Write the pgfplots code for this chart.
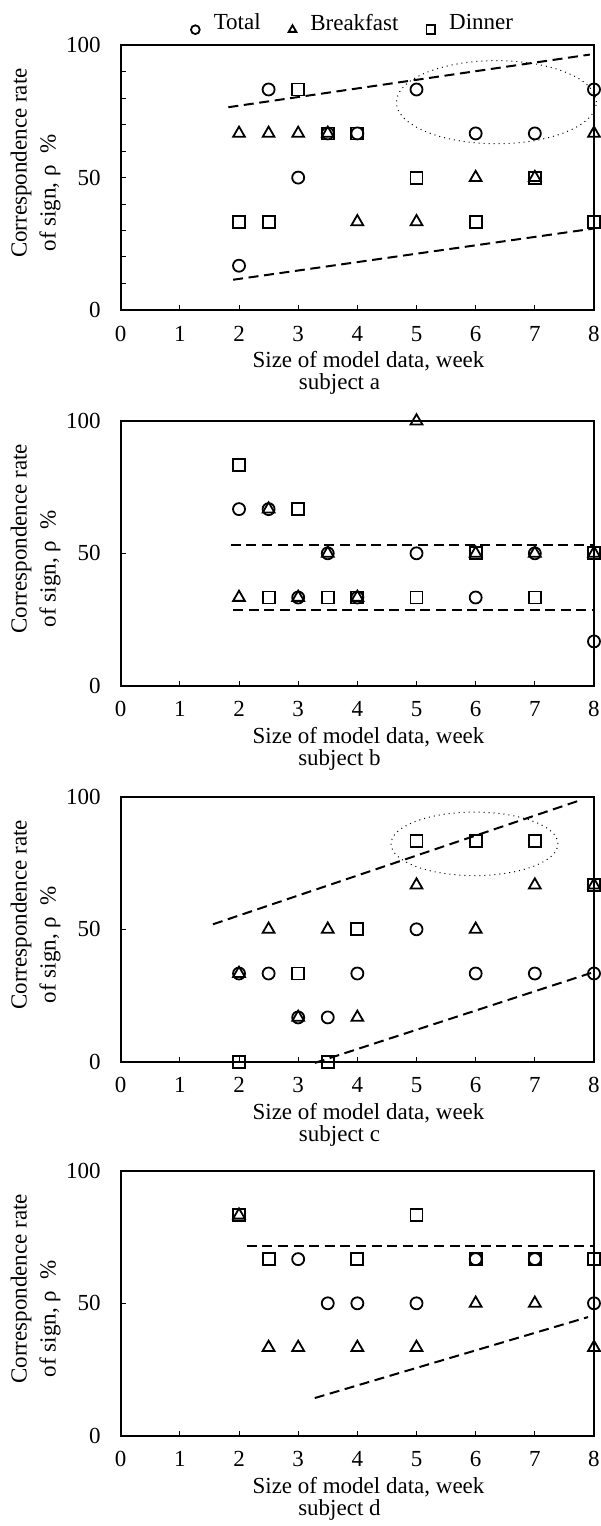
\documentclass[border=0pt]{standalone}
\usepackage{fontspec}
\setmainfont{Liberation Serif}
\usepackage{pgfplots}
\pgfplotsset{compat=1.18}
\newcommand{\bodyfont}{\fontsize{11.5}{11}\selectfont}
\pgfplotsset{
 panel/.style={
  scale only axis, width=236.65pt, height=132.3pt,
  xmin=0,xmax=8,ymin=0,ymax=100,
  xtick={0,1,...,8}, ytick={0,50,100},
  tick align=inside, xtick pos=bottom, ytick pos=left,
  major tick length=2.5pt, minor tick length=2.5pt,
  axis line style={line width=1pt},
  every tick/.style={black, line width=0.5pt},
  /pgf/number format/assume math mode=true,
  xticklabel style={yshift=-4pt},
  yticklabel style={xshift=-6pt},
  clip=false,
 },
 tot/.style={only marks, mark=o, mark size=3pt, mark options={line width=0.9pt}},
 brk/.style={only marks, mark=triangle, mark size=3.4pt, mark options={line width=0.9pt}},
 din/.style={only marks, mark=square, mark size=3pt, mark options={line width=0.9pt}},
 trend/.style={sharp plot, no markers, line width=1pt, dash pattern=on 5pt off 2.8pt},
}
\newcommand{\panellabels}[1]{%
  \node[rotate=90, anchor=center] at (rel axis cs:-0.2107,0.555) {Correspondence rate};
  \node[rotate=90, anchor=center] at (rel axis cs:-0.1494,0.442) {of sign, ρ\hspace{0.5em}\%};
  \node[anchor=base, yshift=-29pt] at (rel axis cs:0.5236,0) {Size of model data, week};
  \node[anchor=base, yshift=-39.85pt] at (rel axis cs:0.4623,0) {subject #1};
}
\begin{document}
\bodyfont
\begin{tikzpicture}[font=\bodyfont]
% ---------- subject a
\begin{axis}[panel, at={(0,0)}, anchor=north west,
  minor y tick num=4,
  legend style={at={(rel axis cs:0.493,1)}, anchor=south, yshift=3.7pt,
    draw=none, fill=none, inner sep=0pt, legend columns=3,
    font=\bodyfont,
    /tikz/every odd column/.append style={column sep=5pt},
    /tikz/every even column/.append style={column sep=12pt}},
  legend image post style={mark size=2.2pt, yshift=-3pt},
]
\addplot[tot] coordinates {(2,16.7)(2.5,83.3)(3,50)(3.5,66.7)(4,66.7)(5,83.3)(6,66.7)(7,66.7)(8,83.3)};
\addlegendentry{\bodyfont Total}
\addplot[brk] coordinates {(2,66.7)(2.5,66.7)(3,66.7)(3.5,66.7)(4,33.3)(5,33.3)(6,50)(7,50)(8,66.7)};
\addlegendentry{\bodyfont Breakfast}
\addplot[din] coordinates {(2,33.3)(2.5,33.3)(3,83.3)(3.5,66.7)(4,66.7)(5,50)(6,33.3)(7,50)(8,33.3)};
\addlegendentry{\bodyfont Dinner}
\addplot[trend, forget plot] coordinates {(1.82,76.6)(7.93,96.5)};
\addplot[trend, forget plot] coordinates {(1.9,11.4)(7.98,30.7)};
\draw[dotted, line width=0.5pt] (axis cs:6.35,78.5) ellipse [x radius=1.69, y radius=15.7];
\panellabels{a}
\end{axis}
% ---------- subject b
\begin{axis}[panel, at={(0,-187.85pt)}, anchor=north west]
\addplot[tot] coordinates {(2,66.7)(2.5,66.7)(3,33.3)(3.5,50)(4,33.3)(5,50)(6,33.3)(7,50)(8,16.7)};
\addplot[brk] coordinates {(2,33.3)(2.5,66.7)(3,33.3)(3.5,50)(4,33.3)(5,100)(6,50)(7,50)(8,50)};
\addplot[din] coordinates {(2,83.3)(2.5,33.3)(3,66.7)(3.5,33.3)(4,33.3)(5,33.3)(6,50)(7,33.3)(8,50)};
\addplot[trend] coordinates {(1.86,53)(7.98,53)};
\addplot[trend] coordinates {(1.9,28.4)(7.98,28.4)};
\panellabels{b}
\end{axis}
% ---------- subject c
\begin{axis}[panel, at={(0,-375.85pt)}, anchor=north west]
\addplot[tot] coordinates {(2,33.3)(2.5,33.3)(3,16.7)(3.5,16.7)(4,33.3)(5,50)(6,33.3)(7,33.3)(8,33.3)};
\addplot[brk] coordinates {(2,33.3)(2.5,50)(3,16.7)(3.5,50)(4,16.7)(5,66.7)(6,50)(7,66.7)(8,66.7)};
\addplot[din] coordinates {(2,0)(3,33.3)(3.5,0)(4,50)(5,83.3)(6,83.3)(7,83.3)(8,66.7)};
\addplot[trend] coordinates {(1.56,51.9)(7.73,98.5)};
\addplot[trend] coordinates {(3.28,-0.5)(7.95,33.5)};
\draw[dotted, line width=0.5pt] (axis cs:5.98,82.3) ellipse [x radius=1.41, y radius=12];
\panellabels{c}
\end{axis}
% ---------- subject d
\begin{axis}[panel, at={(0,-562.85pt)}, anchor=north west]
\addplot[tot] coordinates {(3,66.7)(3.5,50)(4,50)(5,50)(6,66.7)(7,66.7)(8,50)};
\addplot[brk] coordinates {(2,83.3)(2.5,33.3)(3,33.3)(4,33.3)(5,33.3)(6,50)(7,50)(8,33.3)};
\addplot[din] coordinates {(2,83.3)(2.5,66.7)(4,66.7)(5,83.3)(6,66.7)(7,66.7)(8,66.7)};
\addplot[trend] coordinates {(2.13,71.8)(7.98,71.8)};
\addplot[trend] coordinates {(3.28,14.2)(7.9,44.8)};
\panellabels{d}
\end{axis}
\pgfresetboundingbox
\path[use as bounding box] (-60.35pt,22.65pt) rectangle (239.65pt,-740.35pt);
\end{tikzpicture}
\end{document}
